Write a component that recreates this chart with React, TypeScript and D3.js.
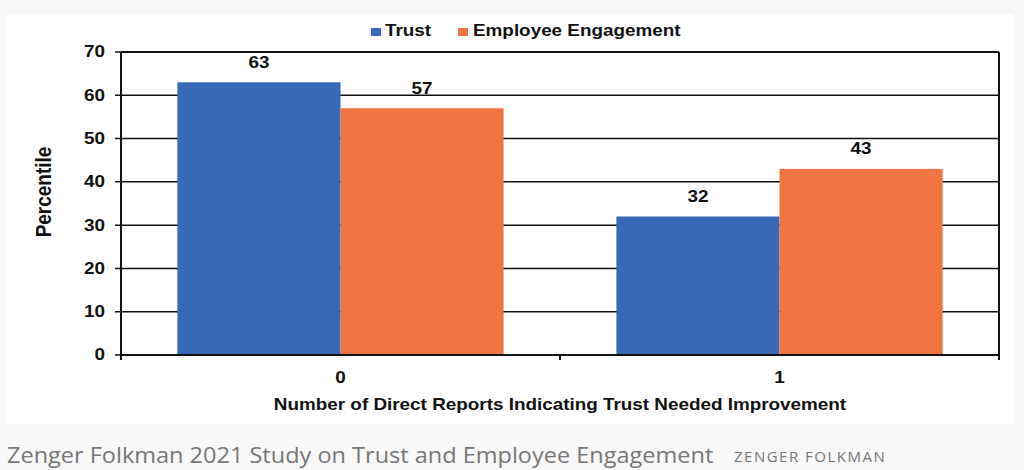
import React from "react";
import * as d3 from "d3";

const categories = ["0", "1"];
const seriesNames = ["Trust", "Employee Engagement"];
const trustValues = [63, 32];
const engagementValues = [57, 43];
const yTicks = [0, 10, 20, 30, 40, 50, 60, 70];
const colors = ["#3868b8", "#f07542"];

const W = 1024;
const H = 470;
const M = { left: 121, right: 999, top: 52, bottom: 355 };
const SX = 1.18;
const font = "Liberation Sans, Arial, sans-serif";

function T(props: {
  x: number;
  y: number;
  anchor?: "start" | "middle" | "end";
  size?: number;
  children: React.ReactNode;
}) {
  const { x, y, anchor = "start", size = 16, children } = props;
  return (
    <text
      transform={`translate(${x},${y}) scale(${SX},1)`}
      textAnchor={anchor}
      dominantBaseline="central"
      fontFamily={font}
      fontWeight="bold"
      fontSize={size}
      fill="#111"
    >
      {children}
    </text>
  );
}

export default function App() {
  const x0 = d3.scaleBand<string>().domain(categories).range([M.left, M.right]).paddingInner(0).paddingOuter(0);
  const groupW = x0.bandwidth() * 0.743;
  const x1 = d3.scaleBand<string>().domain(seriesNames).range([0, groupW]).padding(0);
  const y = d3.scaleLinear().domain([0, 70]).range([M.bottom, M.top]);
  const series = [trustValues, engagementValues];

  return (
    <svg width={W} height={H} style={{ position: "absolute", left: 0, top: 0, display: "block" }}>
      <rect x={0} y={0} width={W} height={H} fill="#f8f8f8" />
      <rect x={7} y={14} width={1006} height={410} fill="#ffffff" />
      {yTicks.map((t) => (
        <g key={t}>
          <line x1={M.left - 6} x2={M.right} y1={y(t)} y2={y(t)} stroke="#111" strokeWidth={1.5} />
          <T x={105} y={y(t)} anchor="end">{t}</T>
        </g>
      ))}
      {categories.map((c, ci) => {
        const gx = (x0(c) as number) + (x0.bandwidth() - groupW) / 2;
        return seriesNames.map((s, si) => {
          const v = series[si][ci];
          const bx = gx + (x1(s) as number);
          return (
            <g key={c + s}>
              <rect x={bx} y={y(v)} width={x1.bandwidth()} height={y(0) - y(v)} fill={colors[si]} />
              <T x={bx + x1.bandwidth() / 2} y={y(v) - 20} anchor="middle">{v}</T>
            </g>
          );
        });
      })}
      <line x1={M.left} x2={M.left} y1={M.top} y2={M.bottom + 5} stroke="#111" strokeWidth={2} />
      <line x1={M.right} x2={M.right} y1={M.top} y2={M.bottom + 5} stroke="#111" strokeWidth={2} />
      <line x1={M.left} x2={M.right} y1={M.bottom} y2={M.bottom} stroke="#111" strokeWidth={2} />
      <line x1={M.left} x2={M.right} y1={M.top} y2={M.top} stroke="#111" strokeWidth={2} />
      {categories.slice(1).map((c) => (
        <line key={c} x1={x0(c) as number} x2={x0(c) as number} y1={M.bottom} y2={M.bottom + 5} stroke="#111" strokeWidth={2} />
      ))}
      {categories.map((c) => (
        <T key={c} x={(x0(c) as number) + x0.bandwidth() / 2} y={378} anchor="middle">{c}</T>
      ))}
      <T x={(M.left + M.right) / 2} y={405} anchor="middle">
        Number of Direct Reports Indicating Trust Needed Improvement
      </T>
      <text
        transform={`translate(43,192) rotate(-90) scale(1,${SX})`}
        textAnchor="middle"
        dominantBaseline="central"
        fontFamily={font}
        fontWeight="bold"
        fontSize={19}
        fill="#111"
      >
        Percentile
      </text>
      <rect x={371} y={28} width={10} height={8} fill={colors[0]} />
      <T x={385} y={31}>{seriesNames[0]}</T>
      <rect x={458} y={28} width={10} height={8} fill={colors[1]} />
      <T x={473} y={31}>{seriesNames[1]}</T>
      <text x={7} y={463} fontFamily="Open Sans, sans-serif" fontSize={21} fill="#777" transform="translate(7,0) scale(1.12,1) translate(-7,0)">
        Zenger Folkman 2021 Study on Trust and Employee Engagement
      </text>
      <text x={734} y={462} fontFamily="Open Sans, sans-serif" fontSize={15} fill="#777" letterSpacing={1.5}>
        ZENGER FOLKMAN
      </text>
    </svg>
  );
}
